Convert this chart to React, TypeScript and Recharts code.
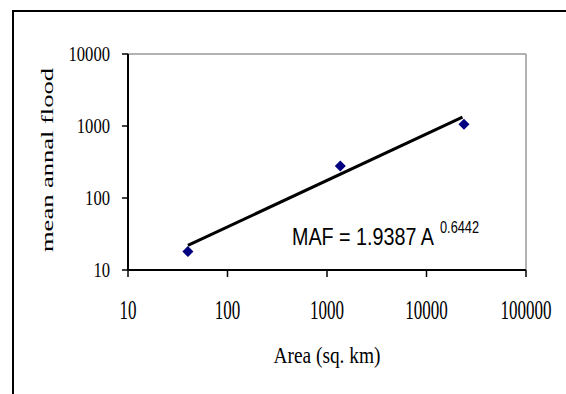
import React from "react";
import {
  ScatterChart,
  Scatter,
  XAxis,
  YAxis,
  ReferenceLine,
  Customized,
} from "recharts";

// observed points (area in sq. km, mean annual flood)
const AREA = [40, 1360, 23800];
const MEAN_FLOOD = [18, 278, 1057];

// fitted power line, read at its two ends
const TREND_AREA = [40, 23000];
const TREND_FLOOD = [22, 1330];

const X_TICKS = [10, 100, 1000, 10000, 100000];
const Y_TICKS = [10, 100, 1000, 10000];

const SERIF = "Liberation Serif";
const SANS = "Liberation Sans";

const points = AREA.map((a, i) => ({ x: a, y: MEAN_FLOOD[i] }));
const trend = TREND_AREA.map((a, i) => ({ x: a, y: TREND_FLOOD[i] }));

const Diamond = (props: any) => {
  const { cx, cy } = props;
  const r = 5.5;
  return (
    <polygon
      points={`${cx},${cy - r} ${cx + r},${cy} ${cx},${cy + r} ${cx - r},${cy}`}
      fill="#000080"
    />
  );
};

const XTick = ({ x, y, payload }: any) => {
  const s = String(payload.value);
  return (
    <text
      x={x}
      y={y + 39.5}
      textAnchor="middle"
      fontFamily={SERIF}
      fontSize={27}
      fill="#000"
      textLength={s.length * 8.5}
      lengthAdjust="spacingAndGlyphs"
    >
      {s}
    </text>
  );
};

const YTick = ({ x, y, payload }: any) => {
  const s = String(payload.value);
  return (
    <text
      x={x}
      y={y + 7.4}
      textAnchor="end"
      fontFamily={SERIF}
      fontSize={22}
      fill="#000"
      textLength={s.length * 8.3}
      lengthAdjust="spacingAndGlyphs"
    >
      {s}
    </text>
  );
};

const Titles = () => (
  <g fill="#000">
    <text
      x={327}
      y={362.5}
      textAnchor="middle"
      fontFamily={SERIF}
      fontSize={24}
      textLength={107}
      lengthAdjust="spacingAndGlyphs"
    >
      Area (sq. km)
    </text>
    <text
      transform="translate(53,160) rotate(-90)"
      textAnchor="middle"
      fontFamily={SERIF}
      fontSize={17}
      textLength={184}
      lengthAdjust="spacingAndGlyphs"
    >
      mean annal flood
    </text>
    <text
      x={292}
      y={244.5}
      fontFamily={SANS}
      fontSize={23}
      textLength={142}
      lengthAdjust="spacingAndGlyphs"
    >
      MAF = 1.9387 A
    </text>
    <text
      x={440}
      y={233}
      fontFamily={SANS}
      fontSize={16}
      textLength={39}
      lengthAdjust="spacingAndGlyphs"
    >
      0.6442
    </text>
  </g>
);

export default function App() {
  return (
    <div
      style={{
        position: "fixed",
        left: 0,
        top: 0,
        width: 566,
        height: 394,
        background: "#fff",
        overflow: "hidden",
      }}
    >
      <style>{"html,body{margin:0;overflow:hidden;}"}</style>
      <ScatterChart
        width={566}
        height={394}
        margin={{ top: 54, right: 40, bottom: 0, left: 0 }}
      >
        <XAxis
          type="number"
          dataKey="x"
          scale="log"
          domain={[10, 100000]}
          ticks={X_TICKS}
          allowDataOverflow
          height={124}
          tickSize={7}
          tickMargin={2}
          axisLine={{ stroke: "#000", strokeWidth: 2 }}
          tickLine={{ stroke: "#000", strokeWidth: 1.5 }}
          tick={<XTick />}
          interval={0}
        />
        <YAxis
          type="number"
          dataKey="y"
          scale="log"
          domain={[10, 10000]}
          ticks={Y_TICKS}
          allowDataOverflow
          width={128}
          tickSize={6}
          tickMargin={12}
          axisLine={{ stroke: "#000", strokeWidth: 2 }}
          tickLine={{ stroke: "#000", strokeWidth: 1.5 }}
          tick={<YTick />}
          interval={0}
        />
        <ReferenceLine y={10000} stroke="#999" strokeWidth={1.5} />
        <ReferenceLine x={100000} stroke="#999" strokeWidth={1.5} />
        <Scatter
          data={trend}
          line={{ stroke: "#000", strokeWidth: 3 }}
          shape={() => <g />}
          isAnimationActive={false}
        />
        <Scatter data={points} shape={<Diamond />} isAnimationActive={false} />
        <Customized component={Titles} />
      </ScatterChart>
      {/* outer frame: only top and left edges fall inside the picture */}
      <div style={{ position: "absolute", left: 12, top: 10, width: 560, height: 2, background: "#000" }} />
      <div style={{ position: "absolute", left: 12, top: 10, width: 2, height: 400, background: "#000" }} />
    </div>
  );
}
